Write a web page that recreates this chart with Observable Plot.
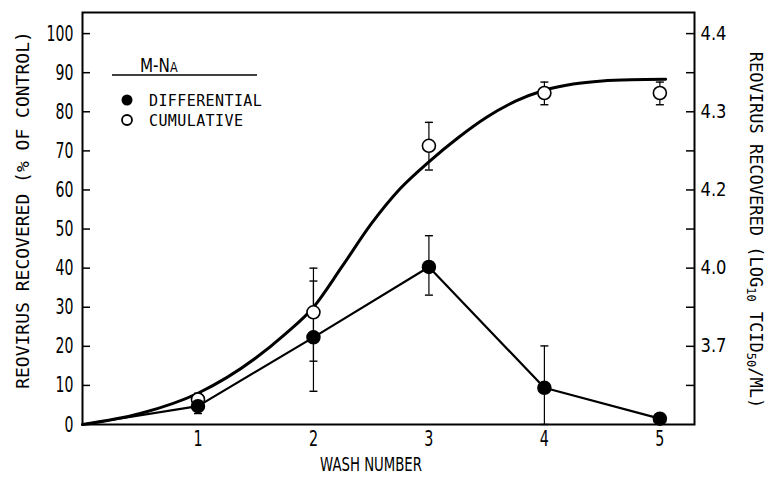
<!DOCTYPE html>
<html><head><meta charset="utf-8">
<script src="https://cdn.jsdelivr.net/npm/d3@7"></script>
<script src="https://cdn.jsdelivr.net/npm/@observablehq/plot@0.6"></script>
<style>body{margin:0;background:#fff}</style>
</head><body><div id="chart"></div>
<script>
// ---- data ----
const washes = [1, 2, 3, 4, 5];
const differential = [4.7, 22.3, 40.3, 9.4, 1.5];
const differentialLow = [2.8, 8.5, 33.1, 0, null];
const differentialHigh = [6.6, 36.7, 48.3, 20.1, null];
const cumulative = [6.4, 28.7, 71.3, 84.8, 84.8];
const cumulativeLow = [4.8, 16.2, 65.1, 81.8, 81.8];
const cumulativeHigh = [8.0, 40.0, 77.3, 87.6, 87.6];
const originWash = 0, originPercent = 0;
// fitted cumulative curve
const fitWash = [0, 0.5, 1.0, 1.5, 1.75, 2.0, 2.25, 2.5, 2.75, 3.0, 3.25, 3.5, 3.75, 4.0, 4.25, 4.5, 4.75, 5.05];
const fitPercent = [0, 2.8, 8.0, 17.0, 23.0, 30.0, 40.5, 51.3, 60.3, 67.2, 73.3, 78.6, 82.7, 85.5, 87.1, 87.9, 88.2, 88.3];
const leftTicks = [0, 10, 20, 30, 40, 50, 60, 70, 80, 90, 100];
const rightTickPositions = [10, 20, 30, 40, 50, 60, 70, 80, 90, 100];
const rightLabelPositions = [100, 80, 60, 40, 20];
const rightLabels = ["4.4", "4.3", "4.2", "4.0", "3.7"];
const xTitle = "WASH NUMBER";
const leftTitle = "REOVIRUS RECOVERED (% OF CONTROL)";
const legendTitle = ["M-N", "A"];
const seriesNames = ["DIFFERENTIAL", "CUMULATIVE"];

// ---- tables ----
const diffPts = washes.map((x, i) => ({x, y: differential[i], lo: differentialLow[i], hi: differentialHigh[i]}));
const diffErr = diffPts.filter(d => d.lo != null && d.hi != null);
const diffLine = [{x: originWash, y: originPercent}, ...diffPts];
const cumPts = washes.map((x, i) => ({x, y: cumulative[i], lo: cumulativeLow[i], hi: cumulativeHigh[i]}));
const fit = fitWash.map((x, i) => ({x, y: fitPercent[i]}));

const W = 775, H = 477, ML = 82, MR = 81, MT = 12, MB = 53;
const plotW = W - ML - MR;
const SANS = "'DejaVu Sans', sans-serif";
const MONO = "'DejaVu Sans Mono', 'Liberation Mono', monospace";
const cap = {draw(ctx, size) { const r = Math.sqrt(size / Math.PI); ctx.moveTo(-r, 0); ctx.lineTo(r, 0); }};

const chart = Plot.plot({
  width: W, height: H,
  marginLeft: ML, marginRight: MR, marginTop: MT, marginBottom: MB,
  x: {domain: [0, 5.3]},
  y: {domain: [0, 105.4]},
  style: {fontFamily: SANS, background: "white", color: "black"},
  marks: [
    Plot.ruleX(cumPts, {x: "x", y1: "lo", y2: "hi", strokeWidth: 1.2}),
    Plot.dot(cumPts, {x: "x", y: "hi", symbol: cap, r: 4, fill: "none", stroke: "black", strokeWidth: 1.4}),
    Plot.dot(cumPts, {x: "x", y: "lo", symbol: cap, r: 4, fill: "none", stroke: "black", strokeWidth: 1.4}),
    Plot.ruleX(diffErr, {x: "x", y1: "lo", y2: "hi", strokeWidth: 1.2}),
    Plot.dot(diffErr, {x: "x", y: "hi", symbol: cap, r: 4, fill: "none", stroke: "black", strokeWidth: 1.4}),
    Plot.dot(diffErr, {x: "x", y: "lo", symbol: cap, r: 4, fill: "none", stroke: "black", strokeWidth: 1.4}),
    Plot.line(fit, {x: "x", y: "y", curve: "monotone-x", strokeWidth: 3}),
    Plot.line(diffLine, {x: "x", y: "y", strokeWidth: 2.2}),
    Plot.dot(cumPts, {x: "x", y: "y", r: 6.5, fill: "white", stroke: "black", strokeWidth: 1.6}),
    Plot.dot(diffPts, {x: "x", y: "y", r: 6.5, fill: "black", stroke: "black"}),
    Plot.frame({strokeWidth: 2}),
    Plot.tickY(leftTicks, {y: d => d, insetRight: plotW - 8, strokeWidth: 1.5}),
    Plot.tickY(rightTickPositions, {y: d => d, insetLeft: plotW - 8, strokeWidth: 1.5}),
    Plot.axisY({anchor: "left", ticks: leftTicks, tickSize: 0, tickPadding: 9, label: null}),
    Plot.axisY({anchor: "right", ticks: rightLabelPositions, tickFormat: d => rightLabels[rightLabelPositions.indexOf(d)], tickSize: 0, tickPadding: 6, label: null}),
    Plot.axisX({ticks: washes, tickFormat: d3.format("d"), tickSize: 0, tickPadding: 7, label: null})
  ]
});
document.getElementById("chart").append(chart);

// narrow the glyphs (no condensed font is installed) with textLength
function squeeze(node, size, s) {
  if (size) node.style.fontSize = size + "px";
  const len = node.getComputedTextLength();
  node.setAttribute("textLength", (len * s).toFixed(2));
  node.setAttribute("lengthAdjust", "spacingAndGlyphs");
}
const yLabelGroups = chart.querySelectorAll('g[aria-label="y-axis tick label"]');
if (yLabelGroups[0]) yLabelGroups[0].querySelectorAll("text").forEach(n => squeeze(n, 22, 0.64));
if (yLabelGroups[1]) yLabelGroups[1].querySelectorAll("text").forEach(n => squeeze(n, 19, 0.86));
const xLabelGroup = chart.querySelector('g[aria-label="x-axis tick label"]');
if (xLabelGroup) xLabelGroup.querySelectorAll("text").forEach(n => squeeze(n, 21, 0.68));

// ---- titles & legend ----
const svg = d3.select(chart);
svg.append("text")
  .attr("transform", "translate(22,210) rotate(-90)")
  .attr("text-anchor", "middle").attr("dominant-baseline", "central")
  .style("font-family", MONO).style("font-size", "18px")
  .text(leftTitle);

const rt = svg.append("text")
  .attr("transform", "translate(756,230) rotate(90)")
  .attr("text-anchor", "middle").attr("dominant-baseline", "central")
  .style("font-family", MONO).style("font-size", "17px");
rt.append("tspan").text("REOVIRUS RECOVERED (LOG");
rt.append("tspan").attr("dy", 5).style("font-size", "12px").text("10");
rt.append("tspan").attr("dy", -5).text(" TCID");
rt.append("tspan").attr("dy", 5).style("font-size", "12px").text("50");
rt.append("tspan").attr("dy", -5).text("/ML)");

svg.append("text")
  .attr("x", 371).attr("y", 471).attr("text-anchor", "middle")
  .attr("textLength", 102).attr("lengthAdjust", "spacingAndGlyphs")
  .style("font-family", SANS).style("font-size", "20px")
  .text(xTitle);

const lt = svg.append("text").attr("transform", "translate(140,72) scale(0.8,1)")
  .attr("text-anchor", "start")
  .style("font-family", SANS).style("font-size", "19px");
lt.append("tspan").text(legendTitle[0]);
lt.append("tspan").style("font-size", "14px").text(legendTitle[1]);
svg.append("line").attr("x1", 112).attr("x2", 257).attr("y1", 75).attr("y2", 75)
  .attr("stroke", "black").attr("stroke-width", 1.5);
svg.append("circle").attr("cx", 127).attr("cy", 100).attr("r", 5.5).attr("fill", "black");
svg.append("circle").attr("cx", 127).attr("cy", 120).attr("r", 5).attr("fill", "white")
  .attr("stroke", "black").attr("stroke-width", 1.8);
seriesNames.forEach((s, i) => {
  svg.append("text").attr("x", 149).attr("y", 106 + 20 * i)
    .attr("text-anchor", "start")
    .style("font-family", MONO).style("font-size", "15px").style("letter-spacing", "0.4px")
    .text(s);
});
</script>
</body></html>
